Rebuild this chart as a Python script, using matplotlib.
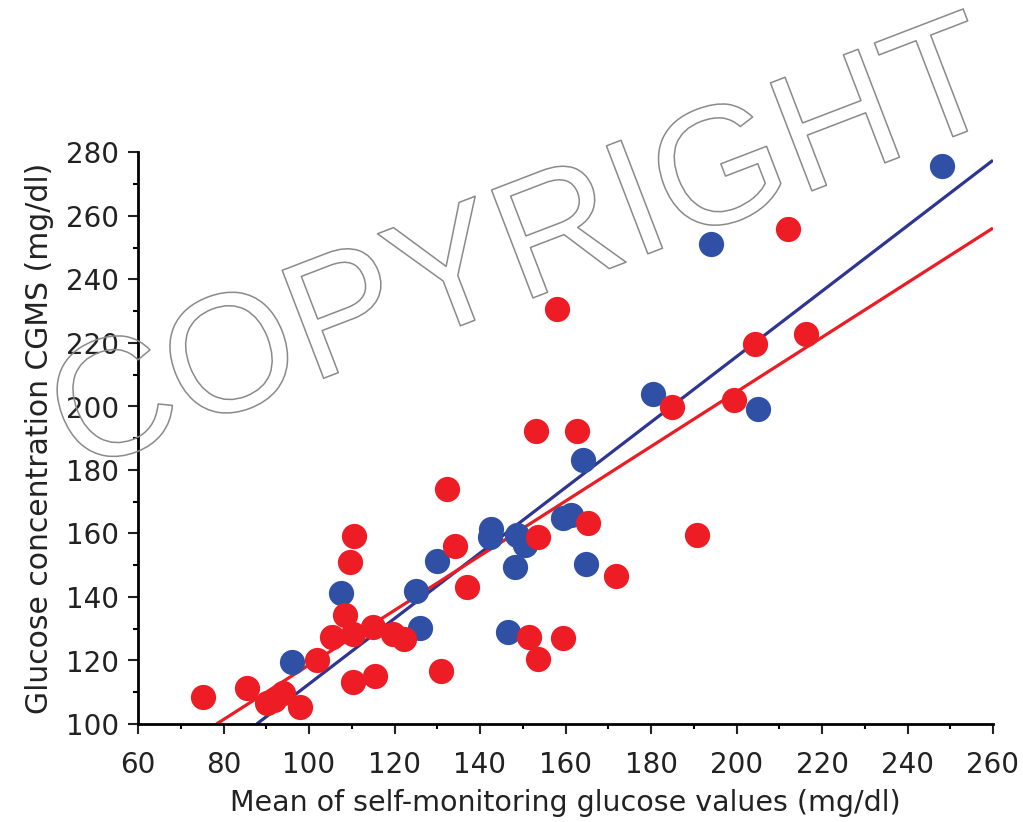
import numpy as np
import matplotlib
matplotlib.use('Agg')
import matplotlib.pyplot as plt
import matplotlib.patheffects as pe
from matplotlib.ticker import MultipleLocator

plt.rcParams['font.family'] = ['DejaVu Sans']

# blue group: mean SMBG vs CGMS
blue_x = [96.0, 107.6, 125.0, 126.0, 130.0, 142.3, 142.6, 148.6, 150.5, 148.2,
          146.6, 159.5, 161.4, 164.9, 164.2, 180.5, 194.0, 205.1, 248.0]
blue_y = [119.6, 141.4, 142.0, 130.1, 151.4, 158.8, 161.5, 159.5, 156.4, 149.5,
          129.1, 164.8, 165.8, 150.4, 183.1, 203.8, 251.1, 199.1, 275.7]

# red group
red_x = [75.1, 85.4, 90.1, 91.7, 94.0, 97.9, 101.8, 105.3, 108.4, 110.4,
         115.0, 119.7, 122.2, 109.7, 110.5, 110.4, 115.4, 130.8, 132.2, 134.2,
         136.9, 151.5, 153.6, 159.3, 153.6, 165.3, 171.8, 153.1, 162.8, 157.9,
         184.8, 199.3, 190.7, 204.3, 216.3, 212.1]
red_y = [108.4, 111.2, 106.5, 107.6, 109.7, 105.4, 120.2, 127.5, 134.3, 128.5,
         130.6, 128.5, 126.8, 151.1, 159.2, 113.3, 115.1, 116.8, 173.9, 156.1,
         143.1, 127.3, 120.4, 127.0, 158.8, 163.4, 146.6, 192.4, 192.4, 230.6,
         199.9, 202.0, 159.5, 219.6, 222.7, 255.8]

# regression lines (slope, intercept)
blue_fit = (1.031, 9.5)
red_fit = (0.860, 32.6)

blue_c = '#2f50a5'
red_c = '#ee1d25'

fig = plt.figure(figsize=(10.23, 8.22), dpi=100)
ax = fig.add_axes([138/1023, 98/822, 855/1023, 571.5/822])

for (m, b), col, z in [(blue_fit, '#2e3592', 2), (red_fit, '#ec1c24', 2.1)]:
    xs = np.array([(100 - b) / m, 260])
    ax.plot(xs, m * xs + b, color=col, lw=2.3, zorder=z, solid_capstyle='butt')

ax.scatter(blue_x, blue_y, s=330, color=blue_c, linewidths=0, zorder=3)
ax.scatter(red_x, red_y, s=330, color=red_c, linewidths=0, zorder=4)

ax.set_xlim(60, 260)
ax.set_ylim(100, 280)
ax.xaxis.set_major_locator(MultipleLocator(20))
ax.xaxis.set_minor_locator(MultipleLocator(10))
ax.yaxis.set_major_locator(MultipleLocator(20))
ax.yaxis.set_minor_locator(MultipleLocator(10))

for s in ['top', 'right']:
    ax.spines[s].set_visible(False)
for s in ['left', 'bottom']:
    ax.spines[s].set_linewidth(2)
ax.tick_params(which='major', length=7.5, width=1.5, labelsize=20, colors='#222222')
ax.tick_params(which='minor', length=3.5, width=1.5)
ax.tick_params(axis='x', which='major', pad=12)
ax.tick_params(axis='y', which='major', pad=6)

ax.set_xlabel('Mean of self-monitoring glucose values (mg/dl)', fontsize=20.5, color='#222222', labelpad=7)
ax.set_ylabel('Glucose concentration CGMS (mg/dl)', fontsize=21.5, color='#222222', labelpad=9)

# watermark
fig.text(526/1023, 1 - 254/822, 'COPYRIGHT', family='Liberation Sans', fontsize=121, rotation=21,
         rotation_mode='anchor', ha='center', va='center', color='none',
         path_effects=[pe.Stroke(linewidth=1.1, foreground='#8a8a8a')], zorder=10)

fig.savefig('out.png', dpi=100)
